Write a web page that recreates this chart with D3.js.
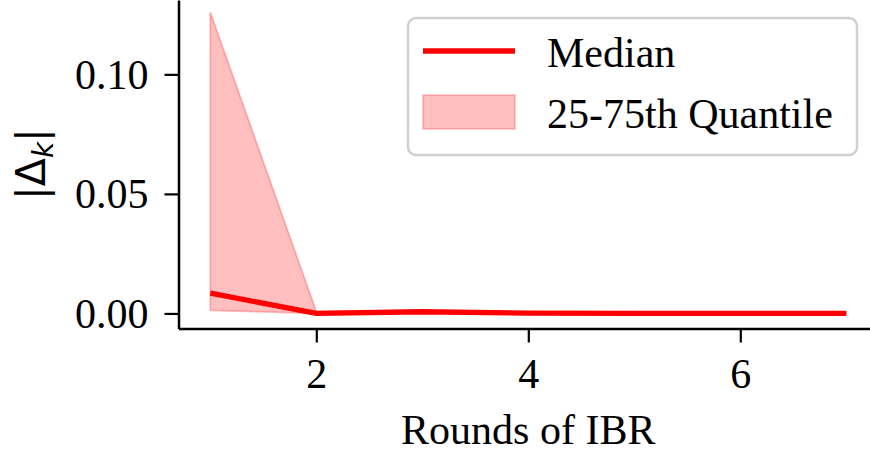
<!DOCTYPE html>
<html><head><meta charset="utf-8">
<script src="https://cdn.jsdelivr.net/npm/d3@7"></script>
<style>body{margin:0;background:#fff}svg{display:block}</style>
</head><body>
<svg id="c" width="870" height="454"></svg>
<script>
const rounds = [1, 2, 3, 4, 5, 6, 7];
const median = [0.0085, 0.0, 0.0007, 0.0001, 0.0, 0.0, 0.0];
const q25 = [0.0013, 0.0, 0.0, 0.0, 0.0, 0.0, 0.0];
const q75 = [0.126, 0.0008, 0.0013, 0.0003, 0.0001, 0.0001, 0.0001];
const xTicks = [2, 4, 6];
const yTicks = [0, 0.05, 0.10];
const legendLabels = ["Median", "25-75th Quantile"];

const svg = d3.select("#c");
const serif = "'Liberation Serif','Times New Roman',serif";
const left = 178.5, bottom = 328.5;
const x = d3.scaleLinear().domain([0.7, 7.3]).range([left, left + 6.6 * 106]);
const y = d3.scaleLinear().domain([-0.0063, 0.1311]).range([bottom, 0]);

const data = rounds.map((r, i) => ({r, m: median[i], lo: q25[i], hi: q75[i]}));

// band
svg.append("path").datum(data)
  .attr("d", d3.area().x(d => x(d.r)).y0(d => y(d.lo)).y1(d => y(d.hi)))
  .attr("fill", "red").attr("fill-opacity", 0.25)
  .attr("stroke", "red").attr("stroke-opacity", 0.25).attr("stroke-width", 1.8);

// median line
svg.append("path").datum(data)
  .attr("d", d3.line().x(d => x(d.r)).y(d => y(d.m)))
  .attr("fill", "none").attr("stroke", "red").attr("stroke-width", 5.3)
  .attr("stroke-linejoin", "round");

// axes
const ax = svg.append("g").attr("transform", `translate(0,${bottom})`)
  .call(d3.axisBottom(x).tickValues(xTicks).tickFormat(d3.format("d")).tickSize(14).tickSizeOuter(0));
ax.selectAll("text").attr("y", 59).attr("dy", 0).attr("font-size", 42).attr("font-family", serif).attr("fill", "#000");
const ay = svg.append("g").attr("transform", `translate(${left},0)`)
  .call(d3.axisLeft(y).tickValues(yTicks).tickFormat(d3.format(".2f")).tickSize(14).tickSizeOuter(0).tickPadding(16));
ay.selectAll("text").attr("dy", "0.33em").attr("font-size", 42).attr("font-family", serif).attr("fill", "#000");
[ax, ay].forEach(g => {
  g.select(".domain").attr("stroke", "#000").attr("stroke-width", 2.5);
  g.selectAll(".tick line").attr("stroke", "#000").attr("stroke-width", 2.2);
});

// x label
svg.append("text").attr("x", x(4)).attr("y", 444).attr("text-anchor", "middle")
  .attr("font-family", serif).attr("font-size", 42).text("Rounds of IBR");

// y label |Δ_k|
const yl = svg.append("text").attr("transform", "translate(45,164) rotate(-90)")
  .attr("text-anchor", "middle").attr("font-family", "'DejaVu Sans',sans-serif").attr("font-size", 41);
yl.append("tspan").text("|Δ");
yl.append("tspan").attr("font-style", "italic").attr("font-size", 28).attr("dy", 8).text("k");
yl.append("tspan").attr("dy", -8).text("|");

// legend
const lg = svg.append("g");
lg.append("rect").attr("x", 408).attr("y", 18).attr("width", 449).attr("height", 137).attr("rx", 8)
  .attr("fill", "#fff").attr("fill-opacity", 0.8).attr("stroke", "#d0d0d0").attr("stroke-width", 2.5);
lg.append("line").attr("x1", 423).attr("x2", 515).attr("y1", 51).attr("y2", 51)
  .attr("stroke", "red").attr("stroke-width", 5.3);
lg.append("rect").attr("x", 423).attr("y", 95).attr("width", 92).attr("height", 34)
  .attr("fill", "red").attr("fill-opacity", 0.25).attr("stroke", "red").attr("stroke-opacity", 0.25).attr("stroke-width", 1.5);
lg.selectAll("text.l").data(legendLabels).join("text").attr("class", "l")
  .attr("x", 547).attr("y", (d, i) => [67, 128][i])
  .attr("font-family", serif).attr("font-size", 42).text(d => d);
</script>
</body></html>
